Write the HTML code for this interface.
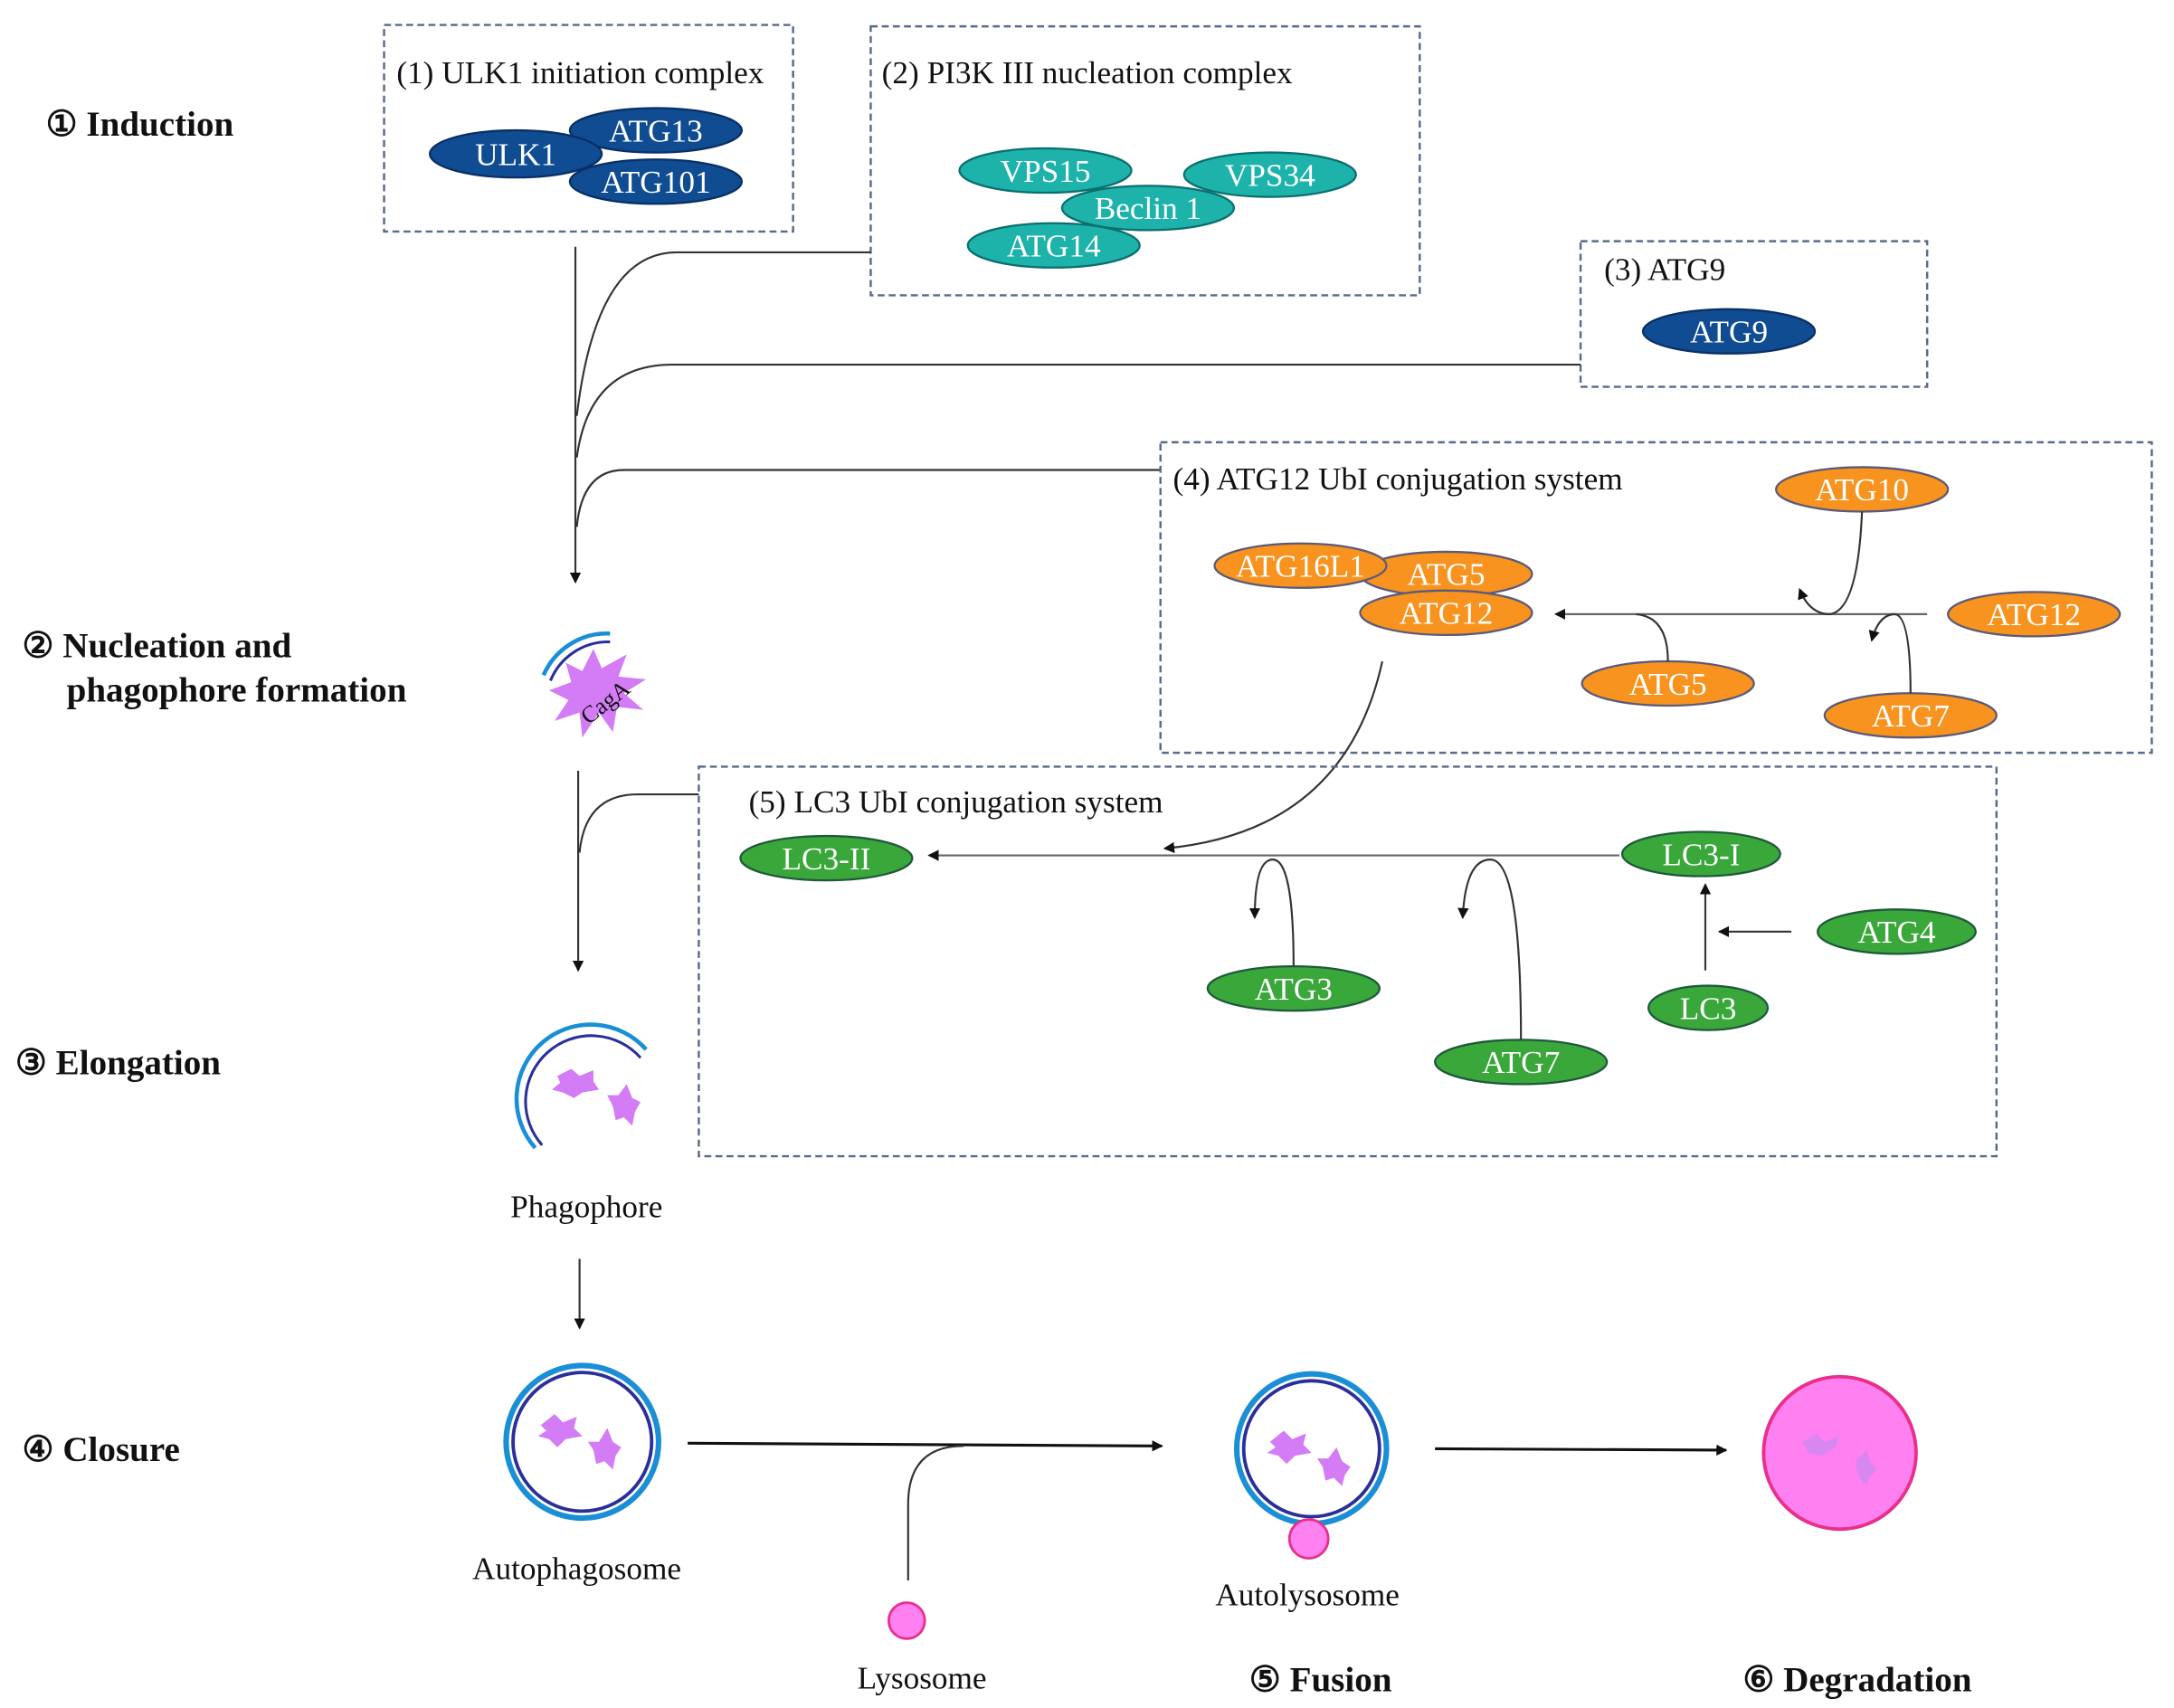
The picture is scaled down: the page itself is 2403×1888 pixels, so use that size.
<!DOCTYPE html>
<html><head><meta charset="utf-8"><style>
html,body{margin:0;padding:0;background:#fff}
svg{display:block}
text{font-family:"Liberation Serif",serif}
.t{font-size:23px;fill:#111}
.w{font-size:23px;fill:#fff;text-anchor:middle}
.b{font-size:25.5px;font-weight:bold;fill:#111}
.box{fill:none;stroke:#5a6a8a;stroke-width:1.6;stroke-dasharray:5,3}
.ln{fill:none;stroke:#333;stroke-width:1.4}
.lg{fill:none;stroke:#666;stroke-width:1.4}
.db{fill:#0f4c92;stroke:#0a2f66;stroke-width:1.5}
.te{fill:#1db3ab;stroke:#0b6f6f;stroke-width:1.5}
.or{fill:#f7931e;stroke:#5b5a7a;stroke-width:1.5}
.gr{fill:#3aa73a;stroke:#1e5a3a;stroke-width:1.5}
</style></head><body>
<svg width="2403" height="1888" viewBox="0 0 1568 1232" xmlns="http://www.w3.org/2000/svg">
<defs>
<marker id="a" markerWidth="8" markerHeight="8" refX="7" refY="4" orient="auto" markerUnits="userSpaceOnUse"><path d="M0,0 L8,4 L0,8 z" fill="#111"/></marker>
</defs>

<text class="b" x="33" y="98">① Induction</text>
<text class="b" x="16" y="474">② Nucleation and</text>
<text class="b" x="48" y="506">phagophore formation</text>
<text class="b" x="11" y="775">③ Elongation</text>
<text class="b" x="16" y="1054">④ Closure</text>
<text class="b" x="901" y="1220">⑤ Fusion</text>
<text class="b" x="1257" y="1220">⑥ Degradation</text>

<rect class="box" x="277" y="18" width="295" height="149"/>
<text class="t" x="286" y="60">(1) ULK1 initiation complex</text>
<ellipse class="db" cx="473" cy="94" rx="62" ry="16"/><text class="w" x="473" y="102">ATG13</text>
<ellipse class="db" cx="473" cy="131" rx="62" ry="16"/><text class="w" x="473" y="139">ATG101</text>
<ellipse class="db" cx="372" cy="111" rx="62" ry="17"/><text class="w" x="372" y="119">ULK1</text>

<rect class="box" x="628" y="19" width="396" height="194"/>
<text class="t" x="636" y="60">(2) PI3K III nucleation complex</text>
<ellipse class="te" cx="754" cy="123" rx="62" ry="16"/><text class="w" x="754" y="131">VPS15</text>
<ellipse class="te" cx="916" cy="126" rx="62" ry="16"/><text class="w" x="916" y="134">VPS34</text>
<ellipse class="te" cx="760" cy="177" rx="62" ry="16"/><text class="w" x="760" y="185">ATG14</text>
<ellipse class="te" cx="828" cy="150" rx="62" ry="16"/><text class="w" x="828" y="158">Beclin 1</text>

<rect class="box" x="1140" y="174" width="250" height="105"/>
<text class="t" x="1157" y="202">(3) ATG9</text>
<ellipse class="db" cx="1247" cy="239" rx="62" ry="16"/><text class="w" x="1247" y="247">ATG9</text>

<path class="ln" d="M415,178 L415,420" marker-end="url(#a)"/>
<path class="ln" d="M628,182 L488,182 Q430,182 416,300"/>
<path class="ln" d="M1140,263 L485,263 Q425,263 416,330"/>
<path class="ln" d="M837,339 L450,339 Q420,339 416,380"/>

<rect class="box" x="837" y="319" width="715" height="224"/>
<text class="t" x="846" y="353">(4) ATG12 UbI conjugation system</text>
<ellipse class="or" cx="1343" cy="353" rx="62" ry="16"/><text class="w" x="1343" y="361">ATG10</text>
<ellipse class="or" cx="1043" cy="414" rx="62" ry="16"/><text class="w" x="1043" y="422">ATG5</text>
<ellipse class="or" cx="938" cy="408" rx="62" ry="16"/><text class="w" x="938" y="416">ATG16L1</text>
<ellipse class="or" cx="1043" cy="442" rx="62" ry="16"/><text class="w" x="1043" y="450">ATG12</text>
<ellipse class="or" cx="1467" cy="443" rx="62" ry="16"/><text class="w" x="1467" y="451">ATG12</text>
<ellipse class="or" cx="1203" cy="493" rx="62" ry="16"/><text class="w" x="1203" y="501">ATG5</text>
<ellipse class="or" cx="1378" cy="516" rx="62" ry="16"/><text class="w" x="1378" y="524">ATG7</text>
<path class="lg" d="M1390,443 L1122,443" marker-end="url(#a)"/>
<path class="ln" d="M1343,369 Q1340,440 1320,443 Q1305,443 1298,425" marker-end="url(#a)"/>
<path class="ln" d="M1378,500 Q1378,445 1367,443 Q1355,443 1350,462" marker-end="url(#a)"/>
<path class="ln" d="M1203,477 Q1203,445 1180,443"/>
<path class="ln" d="M997,477 Q970,600 840,612" marker-end="url(#a)"/>

<path d="M392,487 A50,50 0 0 1 440,457" fill="none" stroke="#1a8fd6" stroke-width="3"/>
<path d="M397,491 A45,45 0 0 1 440,463" fill="none" stroke="#2a2f9a" stroke-width="2"/>
<polygon fill="#d37cf5" points="428,468 434,482 452,472 446,488 466,490 450,500 464,512 445,510 442,528 432,514 420,532 418,514 400,520 410,505 396,498 412,492 408,478 420,484"/>
<text x="414" y="517" font-size="17" fill="#111" transform="rotate(-38 428 505)" font-family="Liberation Sans,sans-serif">CagA</text>

<path class="ln" d="M417,556 L417,700" marker-end="url(#a)"/>
<path class="ln" d="M504,573 L460,573 Q422,573 418,615"/>

<rect class="box" x="504" y="553" width="936" height="281"/>
<text class="t" x="540" y="586">(5) LC3 UbI conjugation system</text>
<ellipse class="gr" cx="596" cy="619" rx="62" ry="16"/><text class="w" x="596" y="627">LC3-II</text>
<ellipse class="gr" cx="1227" cy="616" rx="57" ry="16"/><text class="w" x="1227" y="624">LC3-I</text>
<ellipse class="gr" cx="1368" cy="672" rx="57" ry="16"/><text class="w" x="1368" y="680">ATG4</text>
<ellipse class="gr" cx="1232" cy="727" rx="43" ry="16"/><text class="w" x="1232" y="735">LC3</text>
<ellipse class="gr" cx="933" cy="713" rx="62" ry="16"/><text class="w" x="933" y="721">ATG3</text>
<ellipse class="gr" cx="1097" cy="766" rx="62" ry="16"/><text class="w" x="1097" y="774">ATG7</text>
<path class="lg" d="M1168,617 L670,617" marker-end="url(#a)"/>
<path class="ln" d="M933,697 Q933,620 918,620 Q905,620 905,662" marker-end="url(#a)"/>
<path class="ln" d="M1097,750 Q1097,620 1075,620 Q1057,620 1055,662" marker-end="url(#a)"/>
<path class="ln" d="M1230,700 L1230,638" marker-end="url(#a)"/>
<path class="ln" d="M1292,672 L1240,672" marker-end="url(#a)"/>

<path d="M386,828 A50,50 0 0 1 466,757" fill="none" stroke="#1a8fd6" stroke-width="3"/>
<path d="M391,826 A45,45 0 0 1 462,763" fill="none" stroke="#2a2f9a" stroke-width="2"/>
<polygon fill="#d37cf5" points="402,776 412,771 418,776 428,772 428,780 432,786 420,788 414,792 406,788 398,786 404,781"/>
<polygon fill="#d37cf5" points="452,782 456,792 462,795 458,802 456,812 450,806 444,808 442,798 438,790 446,790"/>
<text class="t" x="423" y="878" text-anchor="middle">Phagophore</text>
<path class="ln" d="M418,908 L418,958" marker-end="url(#a)"/>

<circle cx="420" cy="1040" r="55" fill="none" stroke="#1a8fd6" stroke-width="4"/>
<circle cx="420" cy="1040" r="50" fill="#fff" stroke="#2a2f9a" stroke-width="2.5"/>
<polygon fill="#d37cf5" points="390,1028 400,1020 406,1026 416,1022 414,1030 420,1036 408,1038 402,1044 396,1038 388,1036 394,1032"/>
<polygon fill="#d37cf5" points="438,1030 442,1040 448,1044 444,1050 442,1060 436,1054 430,1056 428,1046 424,1040 432,1040"/>
<text class="t" x="416" y="1139" text-anchor="middle">Autophagosome</text>

<path d="M496,1041 L838,1043" fill="none" stroke="#111" stroke-width="2" marker-end="url(#a)"/>
<path class="ln" d="M655,1140 L655,1085 Q655,1043 695,1043"/>
<circle cx="654" cy="1169" r="13" fill="#ff80f0" stroke="#e8308a" stroke-width="1.8"/>
<text class="t" x="665" y="1218" text-anchor="middle">Lysosome</text>

<circle cx="946" cy="1045" r="54" fill="none" stroke="#1a8fd6" stroke-width="4"/>
<circle cx="946" cy="1045" r="49" fill="#fff" stroke="#2a2f9a" stroke-width="2.5"/>
<polygon fill="#d37cf5" points="916,1040 926,1032 932,1038 942,1034 940,1042 946,1048 934,1050 928,1056 922,1050 914,1048 920,1044"/>
<polygon fill="#d37cf5" points="964,1044 968,1054 974,1058 970,1064 968,1072 962,1066 956,1068 954,1058 950,1052 958,1052"/>
<circle cx="944" cy="1110" r="14" fill="#ff80f0" stroke="#e8308a" stroke-width="1.8"/>
<text class="t" x="943" y="1158" text-anchor="middle">Autolysosome</text>

<path d="M1035,1045 L1245,1046" fill="none" stroke="#111" stroke-width="2" marker-end="url(#a)"/>

<circle cx="1327" cy="1048" r="55" fill="#ff80f0" stroke="#e8308a" stroke-width="2.5"/>
<polygon fill="#c98af0" opacity="0.7" points="1300,1040 1310,1034 1316,1040 1326,1036 1324,1044 1314,1050 1304,1048"/>
<polygon fill="#c98af0" opacity="0.7" points="1346,1046 1350,1056 1354,1060 1348,1066 1346,1072 1340,1064 1338,1054"/>
</svg>
</body></html>
